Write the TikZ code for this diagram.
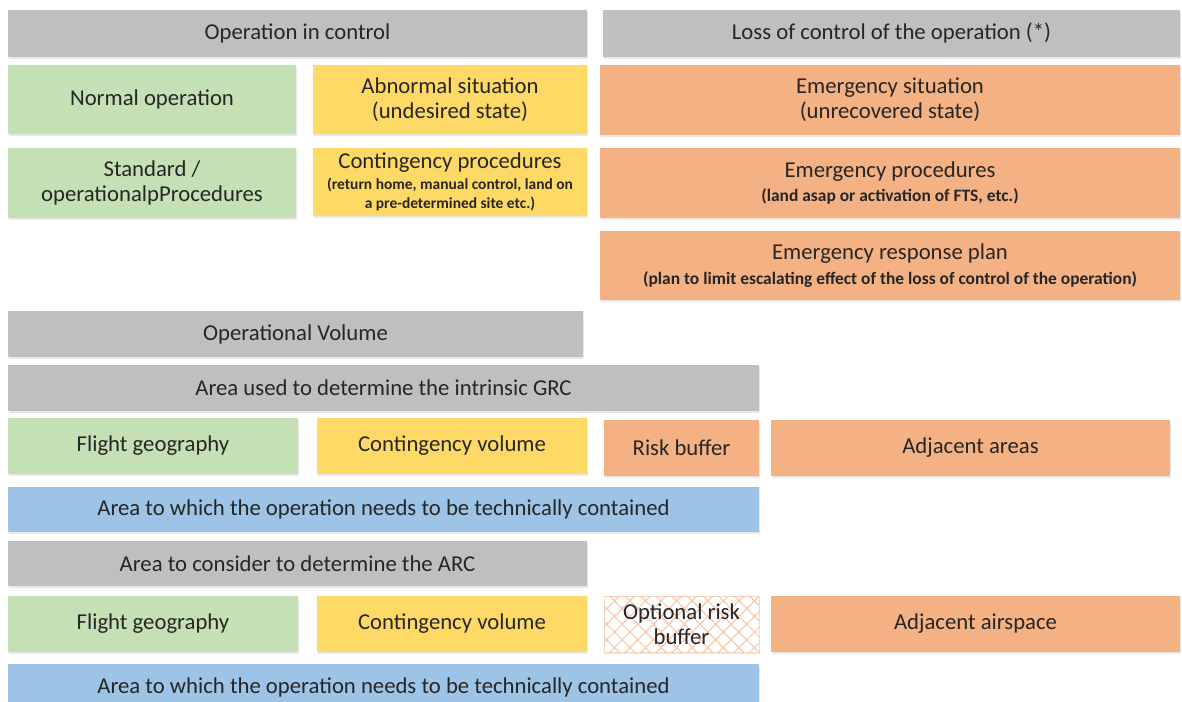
\documentclass[tikz,border=0pt]{standalone}
\usepackage{fontspec}
\setmainfont{Carlito}
\usetikzlibrary{shadows,patterns.meta}

\definecolor{hdrgrey}{HTML}{BFBFBF}
\definecolor{okgreen}{HTML}{C5E0B4}
\definecolor{abnyellow}{HTML}{FFD966}
\definecolor{emorange}{HTML}{F4B183}
\definecolor{techblue}{HTML}{9DC3E6}
\definecolor{hatchline}{HTML}{F6C4A2}

\tikzset{
  cell/.style={rectangle,inner sep=0pt,align=center,text=black!85,
    font=\fontsize{22.8}{25}\selectfont,
    drop shadow={shadow xshift=1bp,shadow yshift=-1.5bp,opacity=.18}},
  wh/.style 2 args={minimum width=#1bp,minimum height=#2bp},
  grey/.style={cell,fill=hdrgrey},
  green/.style={cell,fill=okgreen},
  yellow/.style={cell,fill=abnyellow},
  orange/.style={cell,fill=emorange},
  blue/.style={cell,fill=techblue},
  hatched/.style={cell,fill=white,draw=hatchline!70,line width=.6bp,
    postaction={pattern={Hatch[angle=45,distance=11bp,line width=1bp]},pattern color=hatchline}}
}
\newcommand{\smalltxt}[2][17.5]{{\fontsize{#1}{19}\selectfont\bfseries #2}}

\begin{document}
\begin{tikzpicture}

\clip (0,0) rectangle (1182bp,-702bp);
\fill[white] (0,0) rectangle (1182bp,-702bp);

% operation phases
\node (OC) at (297.5bp,-33.5bp)[grey,wh={579}{47}] {Operation in control};
\node (LC) at (891.5bp,-33.5bp)[grey,wh={577}{47}] {Loss of control of the operation (*)};
\node (N1) at (152bp,-99.5bp)[green,wh={288}{69}] {Normal operation};
\node (A1) at (450bp,-99.5bp)[yellow,wh={274}{69}] {Abnormal situation\\(undesired state)};
\node (E1) at (890bp,-100bp)[orange,wh={580}{70}] {Emergency situation\\(unrecovered state)};
\node (S2) at (152bp,-183bp)[green,wh={288}{70}] {Standard /\\operationalpProcedures};
\node (C2) at (450bp,-182bp)[yellow,wh={274}{68}] {Contingency procedures\\[-4bp]\smalltxt[15.5]{(return home, manual control, land on}\\[-6bp]\smalltxt[15.5]{a pre-determined site etc.)}};
\node (E2) at (890bp,-183bp)[orange,wh={580}{70}] {Emergency procedures\\\smalltxt{(land asap or activation of FTS, etc.)}};
\node (E3) at (890bp,-265.5bp)[orange,wh={580}{69}] {Emergency response plan\\\smalltxt{(plan to limit escalating effect of the loss of control of the operation)}};

% volumes and areas
\node (OV) at (295.5bp,-334bp)[grey,wh={575}{46}] {Operational Volume};
\node (GRC) at (383.5bp,-388bp)[grey,wh={751}{46}] {Area used to determine the intrinsic GRC};
\node (F1) at (153bp,-446bp)[green,wh={290}{56}] {Flight geography};
\node (CV1) at (452bp,-446bp)[yellow,wh={270}{56}] {Contingency volume};
\node (RB) at (681.5bp,-448bp)[orange,wh={155}{56}] {Risk buffer};
\node (AA) at (970.5bp,-448bp)[orange,wh={399}{56}] {Adjacent areas};
\node (TC1) at (383.5bp,-509.5bp)[blue,wh={751}{45}] {Area to which the operation needs to be technically contained};
\node (ARC) at (297.5bp,-563.5bp)[grey,wh={579}{45}] {Area to consider to determine the ARC};
\node (F2) at (153bp,-624bp)[green,wh={290}{56}] {Flight geography};
\node (CV2) at (452bp,-624bp)[yellow,wh={270}{56}] {Contingency volume};
\node (ORB) at (681.5bp,-624bp)[hatched,wh={155}{56}] {Optional risk\\buffer};
\node (AS) at (975.5bp,-624bp)[orange,wh={409}{56}] {Adjacent airspace};
\node (TC2) at (383.5bp,-687bp)[blue,wh={751}{46}] {Area to which the operation needs to be technically contained};
\end{tikzpicture}
\end{document}
